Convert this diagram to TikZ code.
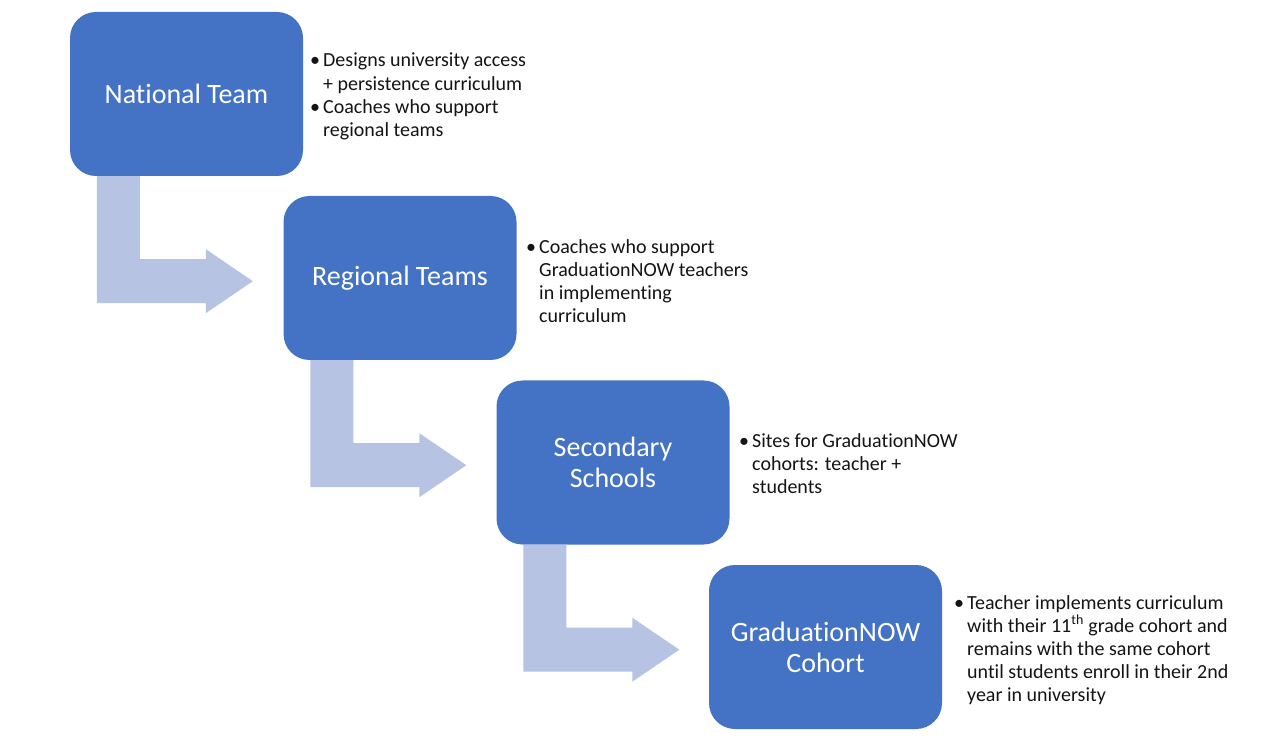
\documentclass[tikz,border=0pt]{standalone}
\usepackage{fontspec}
\setmainfont{Carlito}[Ligatures=NoCommon]
\usetikzlibrary{calc}
\definecolor{boxblue}{HTML}{4472C4}
\definecolor{arrowblue}{HTML}{B6C3E2}
\definecolor{inktext}{HTML}{141414}
\newcommand{\bulitem}{\makebox[13pt][l]{•}}
\newcommand{\bulcont}{\hspace*{13pt}}
\tikzset{
  levelbox/.style={draw=none, fill=boxblue, rounded corners=26pt,
    minimum width=233pt, minimum height=164pt, inner sep=0pt,
    text=white, align=center, font=\fontsize{28}{31}\selectfont},
  notes/.style={anchor=north west, inner sep=0pt, align=left, text=inktext,
    font=\fontsize{20}{23.2}\selectfont},
  bentarrow/.style={fill=arrowblue, draw=none}
}
% bent arrow leaving the bottom of one box and pointing at the next one
\newcommand{\stepdown}[1]{%
  \fill[bentarrow]
    ($(#1.south west)+(27,0)$) -- ($(#1.south west)+(70,0)$)
    -- ($(#1.south west)+(70,83)$) -- ($(#1.south west)+(136,83)$)
    -- ($(#1.south west)+(136,73)$) -- ($(#1.south west)+(183,105)$)
    -- ($(#1.south west)+(136,137)$) -- ($(#1.south west)+(136,127)$)
    -- ($(#1.south west)+(27,127)$) -- cycle;}
\begin{document}
\begin{tikzpicture}[x=1pt,y=-1pt]
\useasboundingbox (0,0) rectangle (1267,743);
\fill[white] (0,0) rectangle (1267,743);

\node[levelbox] (national) at (186.5,94) {National Team};
\node[levelbox] (regional) at (400,278) {Regional Teams};
\node[levelbox] (secondary) at (613,462.5) {Secondary\\Schools};
\node[levelbox] (cohort) at (825.5,647) {GraduationNOW\\Cohort};

\stepdown{national}
\stepdown{regional}
\stepdown{secondary}

\node[notes] (nationalnotes) at (310,53) {\bulitem Designs university access\\
  \bulcont + persistence curriculum\\
  \bulitem Coaches who support\\
  \bulcont regional teams};
\node[notes] (regionalnotes) at (526,239) {\bulitem Coaches who support\\
  \bulcont GraduationNOW teachers\\
  \bulcont in implementing\\
  \bulcont curriculum};
\node[notes] (secondarynotes) at (739,433) {\bulitem Sites for GraduationNOW\\
  \bulcont cohorts: teacher +\\
  \bulcont students};
\node[notes] (cohortnotes) at (954,595) {\bulitem Teacher implements curriculum\\
  \bulcont with their 11\textsuperscript{th} grade cohort and\\
  \bulcont remains with the same cohort\\
  \bulcont until students enroll in their 2nd\\
  \bulcont year in university};
\end{tikzpicture}
\end{document}
